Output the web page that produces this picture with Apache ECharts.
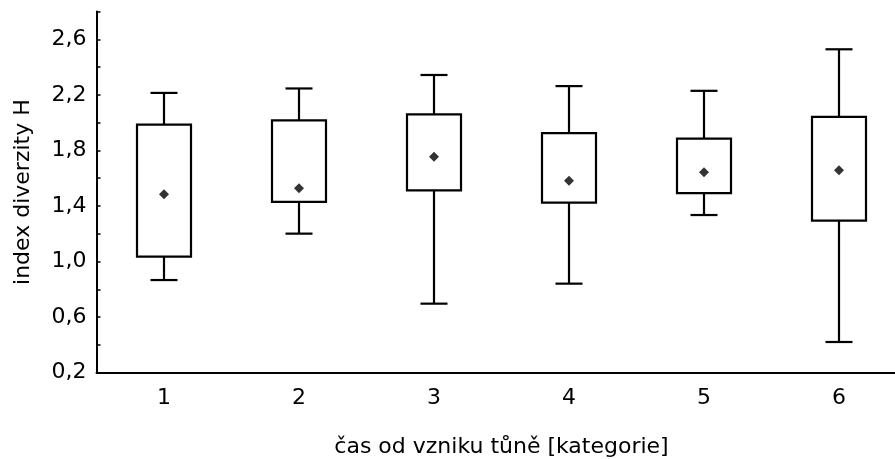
<!DOCTYPE html>
<html>
<head>
<meta charset="utf-8">
<script src="https://cdn.jsdelivr.net/npm/echarts@6/dist/echarts.min.js"></script>
<style>
html,body{margin:0;padding:0;background:#fff;}
#chart{width:895px;height:459px;}
</style>
</head>
<body>
<div id="chart"></div>
<script>
const categories = ['1', '2', '3', '4', '5', '6'];
const whiskerMin = [0.867, 1.201, 0.697, 0.841, 1.335, 0.421];
const boxLow     = [1.035, 1.429, 1.513, 1.424, 1.492, 1.294];
const boxHigh    = [1.985, 2.017, 2.060, 1.924, 1.885, 2.041];
const whiskerMax = [2.214, 2.246, 2.343, 2.263, 2.229, 2.528];
const means      = [1.484, 1.528, 1.755, 1.582, 1.643, 1.657];
const yTickLabels = ['0,2', '0,6', '1,0', '1,4', '1,8', '2,2', '2,6'];

const xTitle = 'čas od vzniku tůně [kategorie]';
const yTitle = 'index diverzity H';

const boxData = categories.map((c, i) => [i, whiskerMin[i], boxLow[i], boxHigh[i], whiskerMax[i]]);

const FONT = 'DejaVu Sans';
const FS = 22;
const chart = echarts.init(document.getElementById('chart'), null, {renderer: 'canvas'});

chart.setOption({
  animation: false,
  backgroundColor: '#fff',
  grid: {left: 96.5, right: -11.5, top: 11.5, bottom: 86.3, containLabel: false, outerBoundsMode: 'none'},
  xAxis: {
    type: 'category',
    data: categories,
    boundaryGap: true,
    name: xTitle,
    nameLocation: 'middle',
    nameGap: 64,
    nameTextStyle: {fontFamily: FONT, fontSize: FS, color: '#000'},
    axisLine: {lineStyle: {color: '#000', width: 2}},
    axisTick: {inside: true, alignWithLabel: true, length: 4, lineStyle: {color: '#000', width: 1.5}},
    axisLabel: {fontFamily: FONT, fontSize: FS, color: '#000', margin: 15},
    splitLine: {show: false}
  },
  yAxis: {
    type: 'value',
    min: 0.2,
    max: 2.8,
    interval: 0.2,
    name: yTitle,
    nameLocation: 'middle',
    nameGap: 62,
    nameTextStyle: {fontFamily: FONT, fontSize: FS, color: '#000'},
    axisLine: {show: true, lineStyle: {color: '#000', width: 2}},
    axisTick: {show: true, inside: true, length: 4, lineStyle: {color: '#000', width: 1.5}},
    axisLabel: {
      fontFamily: FONT, fontSize: FS, color: '#000', margin: 10,
      formatter: function (v) {
        const k = Math.round(v * 10);
        if (k % 4 !== 2) return '';
        const idx = (k - 2) / 4;
        return yTickLabels[idx] !== undefined ? yTickLabels[idx] : '';
      }
    },
    splitLine: {show: false}
  },
  series: [
    {
      type: 'custom',
      data: boxData,
      encode: {x: 0, y: [1, 2, 3, 4]},
      renderItem: function (params, api) {
        const x = api.value(0);
        const pMin = api.coord([x, api.value(1)]);
        const pLow = api.coord([x, api.value(2)]);
        const pHigh = api.coord([x, api.value(3)]);
        const pMax = api.coord([x, api.value(4)]);
        const band = api.size([1, 0])[0];
        const bw = band * 0.4;
        const cw = bw / 2;
        const cx = pLow[0];
        const lineStyle = {stroke: '#000', lineWidth: 2.2};
        return {
          type: 'group',
          children: [
            {type: 'line', shape: {x1: cx, y1: pMin[1], x2: cx, y2: pLow[1]}, style: lineStyle},
            {type: 'line', shape: {x1: cx, y1: pHigh[1], x2: cx, y2: pMax[1]}, style: lineStyle},
            {type: 'line', shape: {x1: cx - cw / 2, y1: pMin[1], x2: cx + cw / 2, y2: pMin[1]}, style: lineStyle},
            {type: 'line', shape: {x1: cx - cw / 2, y1: pMax[1], x2: cx + cw / 2, y2: pMax[1]}, style: lineStyle},
            {type: 'rect', shape: {x: cx - bw / 2, y: pHigh[1], width: bw, height: pLow[1] - pHigh[1]},
             style: {stroke: '#000', lineWidth: 2.2, fill: '#fff'}}
          ]
        };
      },
      z: 2
    },
    {
      type: 'scatter',
      data: means,
      symbol: 'diamond',
      symbolSize: 10,
      itemStyle: {color: '#000'},
      z: 3
    }
  ]
});
</script>
</body>
</html>
